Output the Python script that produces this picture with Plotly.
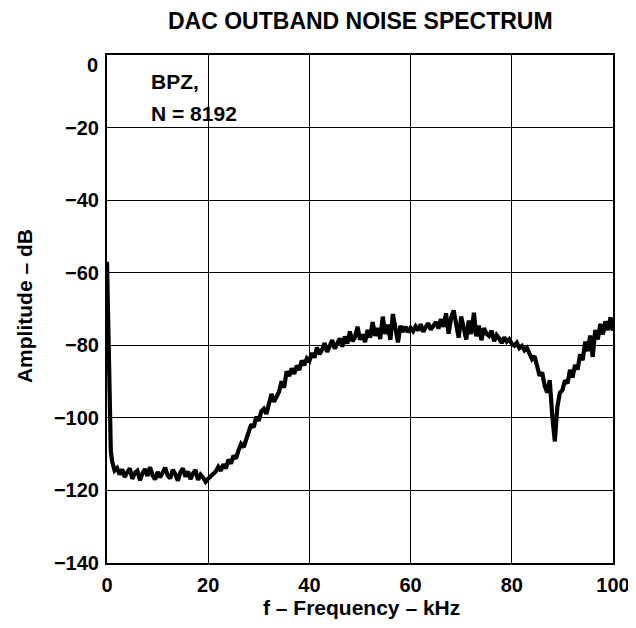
import plotly.graph_objects as go

# ---- data ----
freq_start = [0.0, 0.25, 0.5, 0.75, 1.0]
amp_start = [-57.0, -75.0, -100.0, -109.0, -112.0]

# 1.5 .. 100 kHz in 0.5 kHz steps
amp_floor = [  # 1.5 .. 20.0
    -114.5, -113.8, -115.6, -114.2, -116.3, -115.0, -113.9, -116.8, -115.2, -114.6,
    -117.2, -115.4, -114.1, -116.0, -113.6, -115.8, -117.0, -114.9, -116.4, -115.1,
    -113.7, -115.9, -116.7, -114.3, -115.5, -117.3, -115.0, -113.9, -116.2, -114.8,
    -116.9, -115.3, -114.4, -117.1, -115.7, -116.5, -117.6, -116.8,
]
amp_rise = [  # 20.5 .. 40.0
    -116.0, -115.2, -114.8, -113.5, -114.6, -112.8, -113.9, -111.5, -112.6, -110.4,
    -111.2, -108.9, -107.2, -108.1, -105.6, -103.9, -101.8, -102.6, -99.7, -100.8,
    -98.2, -97.5, -98.9, -96.1, -93.4, -95.6, -94.0, -92.8, -89.9, -91.7,
    -87.2, -88.5, -86.4, -87.9, -85.6, -86.8, -84.2, -85.5, -83.6, -84.3,
]
amp_mid = [  # 40.5 .. 60.0
    -82.1, -83.4, -80.6, -82.5, -81.2, -79.4, -81.8, -80.3, -78.6, -80.9,
    -79.2, -78.1, -80.4, -77.6, -79.5, -76.2, -78.9, -77.8, -74.9, -78.4,
    -77.0, -79.1, -75.8, -77.9, -73.6, -77.4, -75.2, -78.3, -72.1, -76.9,
    -74.3, -78.5, -71.4, -76.1, -79.2, -74.6, -76.3, -74.9, -76.4, -75.2,
]
amp_plateau = [  # 60.5 .. 80.0
    -76.1, -74.8, -75.9, -74.2, -76.3, -75.0, -73.9, -75.7, -74.5, -73.6,
    -75.4, -72.8, -74.9, -71.2, -76.8, -72.5, -70.4, -74.3, -77.9, -72.1,
    -75.8, -78.4, -73.2, -76.9, -71.0, -77.5, -74.6, -78.6, -75.3, -76.8,
    -77.4, -76.0, -78.9, -77.2, -78.1, -79.4, -77.8, -79.0, -78.3, -79.6,
]
amp_notch = [  # 80.5 .. 100.0
    -80.1, -79.3, -80.8, -80.2, -81.4, -80.7, -82.3, -83.8, -83.0, -86.1,
    -88.4, -87.5, -91.2, -93.0, -89.6, -99.5, -106.5, -97.0, -93.1, -92.4,
    -89.7, -90.5, -86.8, -88.9, -85.4, -86.7, -82.5, -84.1, -79.0, -81.6,
    -77.3, -83.2, -75.8, -78.4, -74.1, -77.0, -73.4, -75.8, -72.3, -76.0,
]

amp_main = amp_floor + amp_rise + amp_mid + amp_plateau + amp_notch
freq_main = [1.5 + 0.5 * i for i in range(len(amp_main))]

freq = freq_start + freq_main
amp = amp_start + amp_main

x_ticks = [0, 20, 40, 60, 80, 100]
y_ticks = [0, -20, -40, -60, -80, -100, -120, -140]
y_tick_text = ["0", "\u221220", "\u221240", "\u221260", "\u221280", "\u2212100", "\u2212120", "\u2212140"]

FONT = "Arial, 'Liberation Sans', sans-serif"
OFF = 8  # page body margin
W, H = 636 - OFF, 628 - OFF
L, T = 107 - OFF, 55 - OFF
R = W - (613.5 - OFF)
B = H - (563 - OFF)
PW, PH = W - L - R, H - T - B


def px(xp):
    return (xp - OFF - L) / PW


def py(yp):
    return 1 - (yp - OFF - T) / PH


fig = go.Figure()
fig.add_trace(go.Scatter(
    x=freq, y=amp, mode="lines",
    line=dict(color="black", width=4.2),
    hoverinfo="skip", showlegend=False,
))

fig.update_layout(
    width=W, height=H,
    margin=dict(l=L, r=R, t=T, b=B, autoexpand=False),
    paper_bgcolor="white", plot_bgcolor="white",
    font=dict(family=FONT, size=20, color="black"),
    showlegend=False,
)

fig.update_xaxes(
    range=[0, 100], tickvals=x_ticks, ticktext=[f"<b>{v}</b>" for v in x_ticks],
    showgrid=True, gridcolor="black", gridwidth=1,
    showline=True, linecolor="black", linewidth=2, mirror=True,
    ticks="", zeroline=False, automargin=False, ticklabelstandoff=3,
    tickfont=dict(size=20, family=FONT),
)
fig.update_yaxes(
    range=[-140, 0], tickvals=y_ticks,
    ticktext=[("" if t == "0" else f"<b>{t}</b>") for t in y_tick_text],
    showgrid=True, gridcolor="black", gridwidth=1,
    showline=True, linecolor="black", linewidth=2, mirror=True,
    ticks="", zeroline=False, automargin=False, ticklabelstandoff=2,
    tickfont=dict(size=20, family=FONT),
)

texts = [
    # (text, x px, y px, xanchor, size, angle)  -- positions in window pixels
    ("<b>DAC OUTBAND NOISE SPECTRUM</b>", 361, 21, "center", 23, 0),
    ("<b>f \u2013 Frequency \u2013 kHz</b>", 362, 607, "center", 21, 0),
    ("<b>Amplitude \u2013 dB</b>", 24, 306, "center", 21, -90),
    ("<b>0</b>", 100, 65, "right", 20, 0),
    ("<b>BPZ,</b>", 149, 81, "left", 21, 0),
    ("<b>N = 8192</b>", 149, 113, "left", 21, 0),
]
for text, xp, yp, xa, size, ang in texts:
    fig.add_annotation(
        x=px(xp), y=py(yp), xref="paper", yref="paper",
        xanchor=xa, yanchor="middle", text=text, showarrow=False,
        textangle=ang, font=dict(size=size, family=FONT, color="black"),
    )

fig.write_html("out.html")
